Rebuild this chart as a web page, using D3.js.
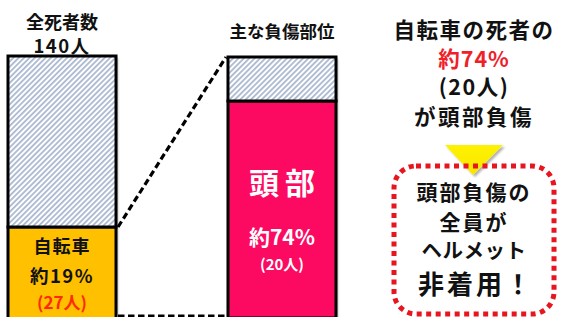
<!DOCTYPE html>
<html>
<head>
<meta charset="utf-8">
<script src="https://cdn.jsdelivr.net/npm/d3@7"></script>
<style>
  html, body { margin: 0; padding: 0; background: #fff; }
  svg { display: block; font-family: "Noto Sans CJK JP", sans-serif; font-weight: 700; }
</style>
</head>
<body>
<div id="chart"></div>
<script>
// bars: all deaths, then bicycle deaths broken down by injury
const barNames = ['全死者', '自転車'];
const overallCategories = ['自転車', 'その他'];
const overallValues = [27, 113];
const injuryCategories = ['頭部', 'その他'];
const injuryValues = [20, 7];

const overallTitle = ['全死者数', '140人'];
const injuryTitle = '主な負傷部位';
const bikeLabel = ['自転車', '約19%', '(27人)'];
const headLabel = ['頭部', '約74%', '(20人)'];
const sideText = ['自転車の死者の', '約74%', '(20人)', 'が頭部負傷'];
const boxText = ['頭部負傷の', '全員が', 'ヘルメット', '非着用！'];

const width = 566, height = 317;
const svg = d3.select('#chart').append('svg')
  .attr('width', width).attr('height', height);

const defs = svg.append('defs');
const hatch = defs.append('pattern')
  .attr('id', 'hatch')
  .attr('patternUnits', 'userSpaceOnUse')
  .attr('width', 3.8).attr('height', 3.8)
  .attr('patternTransform', 'rotate(45)');
hatch.append('rect').attr('width', 3.8).attr('height', 3.8).attr('fill', '#fff');
hatch.append('line')
  .attr('x1', 0.9).attr('x2', 0.9).attr('y1', 0).attr('y2', 3.8)
  .attr('stroke', '#9aabc7').attr('stroke-width', 1.5);

const shadow = defs.append('filter').attr('id', 'shadow')
  .attr('x', '-10%').attr('y', '-10%').attr('width', '130%').attr('height', '130%');
shadow.append('feDropShadow')
  .attr('dx', 2).attr('dy', 2).attr('stdDeviation', 1.2)
  .attr('flood-color', '#000').attr('flood-opacity', 0.3);

const x = d3.scaleBand().domain(barNames).range([8, 336]).paddingInner(0.509);

// the source figure is not drawn to scale, so each bar gets a piecewise scale
const overallTotal = d3.sum(overallValues);
const injuryTotal = d3.sum(injuryValues);
const yOverall = d3.scaleLinear()
  .domain([0, overallValues[0], overallTotal])
  .range([319, 227, 56]);
const yInjury = d3.scaleLinear()
  .domain([0, injuryValues[0], injuryTotal])
  .range([318, 101, 57]);

const overallColors = d3.scaleOrdinal().domain(overallCategories).range(['#ffc000', 'url(#hatch)']);
const injuryColors = d3.scaleOrdinal().domain(injuryCategories).range(['#fc0a62', 'url(#hatch)']);

function stackSegments(cats, vals) {
  let acc = 0;
  return cats.map((c, i) => {
    const seg = { name: c, y0: acc, y1: acc + vals[i] };
    acc += vals[i];
    return seg;
  });
}

function drawBar(name, segs, y, color) {
  const g = svg.append('g');
  g.append('rect')
    .attr('x', x(name)).attr('width', x.bandwidth())
    .attr('y', y(segs[segs.length - 1].y1))
    .attr('height', y(0) - y(segs[segs.length - 1].y1))
    .attr('fill', '#fff')
    .attr('filter', 'url(#shadow)');
  g.selectAll('rect.seg')
    .data(segs)
    .join('rect')
    .attr('class', 'seg')
    .attr('x', x(name)).attr('width', x.bandwidth())
    .attr('y', d => y(d.y1))
    .attr('height', d => y(d.y0) - y(d.y1))
    .attr('fill', d => color(d.name))
    .attr('stroke', '#000')
    .attr('stroke-width', 3);
}

drawBar(barNames[0], stackSegments(overallCategories, overallValues), yOverall, overallColors);
drawBar(barNames[1], stackSegments(injuryCategories, injuryValues), yInjury, injuryColors);

// connector lines between the bicycle slice and the breakdown bar
const connectors = [
  [[x(barNames[0]) + x.bandwidth(), yOverall(overallValues[0])], [x(barNames[1]), yInjury(injuryTotal)]],
  [[x(barNames[0]) + x.bandwidth(), 316], [x(barNames[1]), 316]]
];
svg.selectAll('line.conn')
  .data(connectors)
  .join('line')
  .attr('x1', d => d[0][0] + 2).attr('y1', d => d[0][1])
  .attr('x2', d => d[1][0] - 2).attr('y2', d => d[1][1])
  .attr('stroke', '#000').attr('stroke-width', 3.2)
  .attr('stroke-dasharray', '6.5 3.5');

function addText(t, cx, cy, size, fill, extra) {
  const el = svg.append('text')
    .attr('x', cx).attr('y', cy)
    .attr('text-anchor', 'middle')
    .attr('font-size', size)
    .attr('fill', fill || '#111')
    .text(t);
  if (extra) extra(el);
  return el;
}

const cxLeft = x(barNames[0]) + x.bandwidth() / 2;
const cxRight = x(barNames[1]) + x.bandwidth() / 2;

addText(overallTitle[0], cxLeft, 29, 18);
addText(overallTitle[1], cxLeft, 53, 18.5, null, e => e.attr('letter-spacing', 1.5));
addText(injuryTitle, cxRight, 38, 17.5);

addText(bikeLabel[0], cxLeft, 253, 18, null, e => e.attr('letter-spacing', 1));
addText(bikeLabel[1], cxLeft, 283, 18.5, null, e => e.attr('letter-spacing', 1.5));
addText(bikeLabel[2], cxLeft, 309, 17, '#ff2a00');

addText(headLabel[0], cxRight + 3, 194, 30, '#fff', e => e.attr('letter-spacing', 6));
addText(headLabel[1], cxRight, 245, 21, '#fff');
addText(headLabel[2], cxRight, 270, 15, '#fff');

// right-hand callout
const cxSide = 474;
addText(sideText[0], cxSide, 38, 21.5, null, e => e.attr('letter-spacing', 1.5));
addText(sideText[1], cxSide, 67, 21.5, '#f0202a', e => e.attr('letter-spacing', 1));
addText(sideText[2], cxSide, 95, 21.5, null, e => e.attr('letter-spacing', 1.5));
addText(sideText[3], cxSide, 125, 21.5, null, e => e.attr('letter-spacing', 2.5));

const grad = defs.append('linearGradient').attr('id', 'tri')
  .attr('x1', 0).attr('y1', 0).attr('x2', 0).attr('y2', 1);
grad.append('stop').attr('offset', '0%').attr('stop-color', '#fff200');
grad.append('stop').attr('offset', '100%').attr('stop-color', '#f7e600');

svg.append('path')
  .attr('d', d3.line()([[445, 145], [503, 145], [473, 175]]) + 'Z')
  .attr('fill', 'url(#tri)')
  .attr('filter', 'url(#shadow)');

svg.append('rect')
  .attr('x', 394).attr('y', 166)
  .attr('width', 160).attr('height', 148)
  .attr('rx', 22).attr('ry', 22)
  .attr('fill', 'none')
  .attr('stroke', '#e8141e').attr('stroke-width', 5)
  .attr('stroke-dasharray', '5 4.5');

addText(boxText[0], cxSide, 200, 21, null, e => e.attr('letter-spacing', 2));
addText(boxText[1], cxSide, 230, 21, null, e => e.attr('letter-spacing', 2));
addText(boxText[2], cxSide, 258, 20.5, null, e => e.attr('letter-spacing', 0.5));
addText(boxText[3], cxSide + 2, 294, 26, null, e => e.attr('letter-spacing', 3));
</script>
</body>
</html>
